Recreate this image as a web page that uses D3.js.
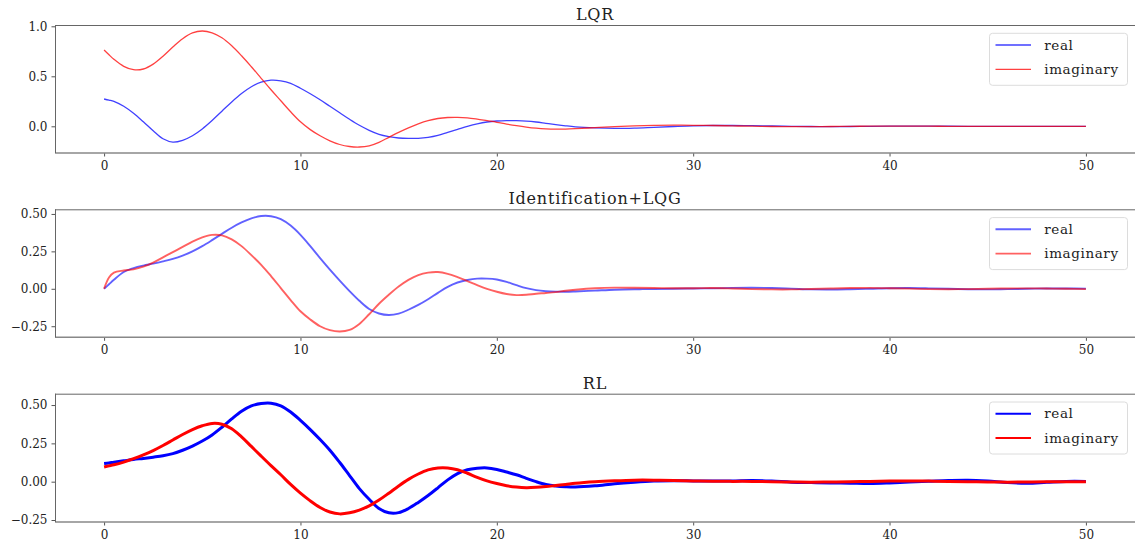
<!DOCTYPE html>
<html>
<head>
<meta charset="utf-8">
<script src="https://cdn.jsdelivr.net/npm/d3@7"></script>
<style>
  html, body { margin: 0; padding: 0; background: #fff; }
  svg { display: block; }
  text { font-family: "DejaVu Serif", serif; fill: #222; }
</style>
</head>
<body>
<svg id="chart" width="1135" height="541"></svg>
<script>
// ---------------- data ----------------
const time = [0,0.25,0.5,1,1.5,2,2.5,3,3.5,4,4.5,5,5.5,6,6.5,7,7.5,8,8.5,9,9.5,10,10.5,11,11.5,12,12.5,13,13.5,14,14.5,15,15.5,16,16.5,17,17.5,18,18.5,19,19.5,20,20.5,21,21.5,22,22.5,23,23.5,24,25,26,27,28,29,30,31,32,33,34,35,36,37,38,39,40,41,42,43,44,45,46,47,48,49,50];

const lqrReal = [0.273,0.262,0.25,0.2,0.13,0.045,-0.045,-0.125,-0.158,-0.14,-0.094,-0.026,0.058,0.151,0.244,0.328,0.396,0.442,0.461,0.455,0.43,0.38,0.325,0.265,0.2,0.135,0.07,0.01,-0.04,-0.08,-0.103,-0.117,-0.121,-0.12,-0.11,-0.09,-0.06,-0.03,0.0,0.025,0.043,0.053,0.057,0.056,0.052,0.043,0.03,0.017,0.005,-0.005,-0.016,-0.021,-0.018,-0.01,-0.002,0.005,0.008,0.008,0.006,0.003,0.0,-0.002,-0.003,-0.002,-0.001,0.001,0.002,0.001,0.001,0,-0.001,-0.001,0,0,0,0];
const lqrImag = [0.763,0.715,0.67,0.6,0.566,0.573,0.622,0.701,0.792,0.876,0.934,0.953,0.935,0.885,0.805,0.705,0.595,0.48,0.365,0.255,0.145,0.045,-0.033,-0.095,-0.145,-0.182,-0.202,-0.207,-0.195,-0.16,-0.11,-0.06,-0.015,0.025,0.057,0.078,0.088,0.09,0.085,0.072,0.056,0.04,0.022,0.006,-0.008,-0.019,-0.026,-0.029,-0.028,-0.024,-0.013,-0.003,0.004,0.009,0.011,0.01,0.008,0.004,0.001,-0.002,-0.003,-0.003,-0.002,0,0.001,0.002,0.001,0.001,0,0,-0.001,0,0,0,0,0];

const lqgReal = [0,0.03,0.06,0.112,0.138,0.155,0.168,0.183,0.2,0.222,0.25,0.285,0.325,0.367,0.408,0.443,0.47,0.486,0.485,0.465,0.422,0.36,0.285,0.205,0.128,0.055,-0.015,-0.08,-0.135,-0.165,-0.175,-0.166,-0.14,-0.108,-0.07,-0.027,0.013,0.042,0.059,0.068,0.068,0.062,0.046,0.024,0.004,-0.009,-0.016,-0.019,-0.02,-0.018,-0.012,-0.006,-0.003,-0.002,0.0,0.002,0.003,0.006,0.007,0.005,0.001,-0.004,-0.005,-0.003,0.0,0.004,0.005,0.003,0.0,-0.003,-0.004,-0.002,0.0,0.002,0.002,0.001];
const lqgImag = [0,0.075,0.108,0.122,0.13,0.148,0.175,0.21,0.245,0.28,0.315,0.343,0.36,0.357,0.33,0.285,0.225,0.16,0.085,0.005,-0.075,-0.15,-0.205,-0.25,-0.276,-0.285,-0.275,-0.235,-0.17,-0.1,-0.04,0.015,0.06,0.092,0.108,0.112,0.1,0.078,0.052,0.025,0.0,-0.02,-0.035,-0.042,-0.04,-0.033,-0.028,-0.022,-0.013,-0.006,0.004,0.008,0.007,0.005,0.004,0.004,0.005,0.002,-0.002,-0.004,-0.004,-0.001,0.002,0.005,0.006,0.004,0.001,-0.002,-0.003,-0.002,0.0,0.002,0.003,0.002,0.0,-0.002];

const rlReal = [0.118,0.122,0.127,0.136,0.145,0.152,0.16,0.169,0.183,0.205,0.232,0.265,0.305,0.355,0.41,0.46,0.495,0.51,0.512,0.495,0.455,0.4,0.34,0.275,0.205,0.125,0.04,-0.045,-0.115,-0.175,-0.203,-0.202,-0.175,-0.135,-0.09,-0.04,0.012,0.053,0.078,0.088,0.09,0.08,0.063,0.045,0.022,0.0,-0.018,-0.028,-0.033,-0.035,-0.027,-0.013,-0.003,0.004,0.006,0.005,0.004,0.005,0.008,0.004,-0.003,-0.006,-0.008,-0.01,-0.012,-0.008,-0.002,0.003,0.008,0.01,0.004,-0.006,-0.01,-0.004,0.002,0.002];
const rlImag = [0.096,0.103,0.11,0.128,0.15,0.175,0.203,0.236,0.272,0.308,0.34,0.365,0.38,0.375,0.345,0.292,0.23,0.167,0.105,0.045,-0.018,-0.075,-0.125,-0.168,-0.198,-0.21,-0.203,-0.185,-0.158,-0.12,-0.075,-0.028,0.015,0.05,0.077,0.09,0.09,0.078,0.055,0.028,0.005,-0.012,-0.026,-0.035,-0.039,-0.037,-0.032,-0.025,-0.018,-0.01,0.0,0.006,0.01,0.01,0.008,0.005,0.003,0.002,0.002,0.0,-0.002,-0.003,-0.002,0.0,0.002,0.004,0.005,0.004,0.002,0.0,-0.002,-0.003,-0.002,0.0,0.0,-0.001];

const titles = ["LQR", "Identification+LQG", "RL"];
const legendLabels = ["real", "imaginary"];
const xTicks = [0, 10, 20, 30, 40, 50];
const yTicksLQR = [0, 0.5, 1.0];
const yTicksOther = [-0.25, 0, 0.25, 0.5];

// ---------------- layout ----------------
const svg = d3.select("#chart");
const L = 55, R = 1135.5;
const x = d3.scaleLinear().domain([-2.5, 52.5]).range([L, 1135]);

const panels = [
  { title: titles[0], real: lqrReal, imag: lqrImag, top: 25, bottom: 153,
    yDomain: [-0.267, 1.013], ticks: yTicksLQR, fmt: d3.format(".1f"),
    colors: ["rgba(0,0,255,0.75)", "rgba(255,0,0,0.75)"], width: 1.3 },
  { title: titles[1], real: lqgReal, imag: lqgImag, top: 209.3, bottom: 337.3,
    yDomain: [-0.324, 0.531], ticks: yTicksOther, fmt: d3.format(".2f"),
    colors: ["rgba(0,0,255,0.62)", "rgba(255,0,0,0.62)"], width: 1.9 },
  { title: titles[2], real: rlReal, imag: rlImag, top: 393.7, bottom: 522,
    yDomain: [-0.263, 0.574], ticks: yTicksOther, fmt: d3.format(".2f"),
    colors: ["#0000ff", "#ff0000"], width: 3.0 }
];

panels.forEach(p => {
  const y = d3.scaleLinear().domain(p.yDomain).range([p.bottom, p.top]);
  const g = svg.append("g");

  // x axis
  const xa = g.append("g")
    .attr("transform", `translate(0,${p.bottom})`)
    .call(d3.axisBottom(x).tickValues(xTicks).tickSize(3.5).tickPadding(5).tickFormat(d3.format("d")));
  xa.select(".domain").remove();
  xa.selectAll("line").attr("stroke", "#555");
  xa.selectAll("text").style("font-family", '"DejaVu Serif", serif').style("font-size", "12px").attr("fill", "#222");

  // y axis
  const ya = g.append("g")
    .attr("transform", `translate(${L},0)`)
    .call(d3.axisLeft(y).tickValues(p.ticks).tickSize(3.5).tickPadding(4)
      .tickFormat(d => p.fmt(d).replace("-", "\u2212")));
  ya.select(".domain").remove();
  ya.selectAll("line").attr("stroke", "#555");
  ya.selectAll("text").style("font-family", '"DejaVu Serif", serif').style("font-size", "12px").attr("fill", "#222");

  // spines
  g.append("line").attr("x1", L).attr("x2", R).attr("y1", p.top + 0.5).attr("y2", p.top + 0.5)
    .attr("stroke", "#666").attr("stroke-width", 1);
  g.append("line").attr("x1", L).attr("x2", R).attr("y1", p.bottom).attr("y2", p.bottom)
    .attr("stroke", "#888").attr("stroke-width", 1.6);
  g.append("line").attr("x1", L + 0.5).attr("x2", L + 0.5).attr("y1", p.top).attr("y2", p.bottom)
    .attr("stroke", "#666").attr("stroke-width", 1);

  // lines
  const line = d3.line().x((d, i) => x(time[i])).y(d => y(d)).curve(d3.curveCatmullRom.alpha(0.5));
  [p.real, p.imag].forEach((vals, k) => {
    g.append("path").datum(vals).attr("d", line)
      .attr("fill", "none").attr("stroke", p.colors[k]).attr("stroke-width", p.width)
      .attr("stroke-linejoin", "round");
  });

  // title
  g.append("text").attr("x", (L + 1135) / 2).attr("y", p.top - 5)
    .attr("text-anchor", "middle").style("font-size", "16px").style("letter-spacing", "0.8px")
    .text(p.title);

  // legend
  const lg = g.append("g").attr("transform", `translate(989.5,${p.top + 8.3})`);
  lg.append("rect").attr("x", 0).attr("y", 0).attr("width", 138).attr("height", 52).attr("rx", 3)
    .attr("fill", "rgba(255,255,255,0.8)").attr("stroke", "#dcdcdc").attr("stroke-width", 1);
  legendLabels.forEach((lab, k) => {
    const ly = 11.7 + k * 24.3;
    lg.append("line").attr("x1", 6).attr("x2", 41.5).attr("y1", ly).attr("y2", ly)
      .attr("stroke", p.colors[k]).attr("stroke-width", Math.min(p.width, 2));
    lg.append("text").attr("x", 54.8).attr("y", ly).attr("dy", "0.35em")
      .style("font-size", "13.5px").style("letter-spacing", "0.6px").text(lab);
  });
});
</script>
</body>
</html>
